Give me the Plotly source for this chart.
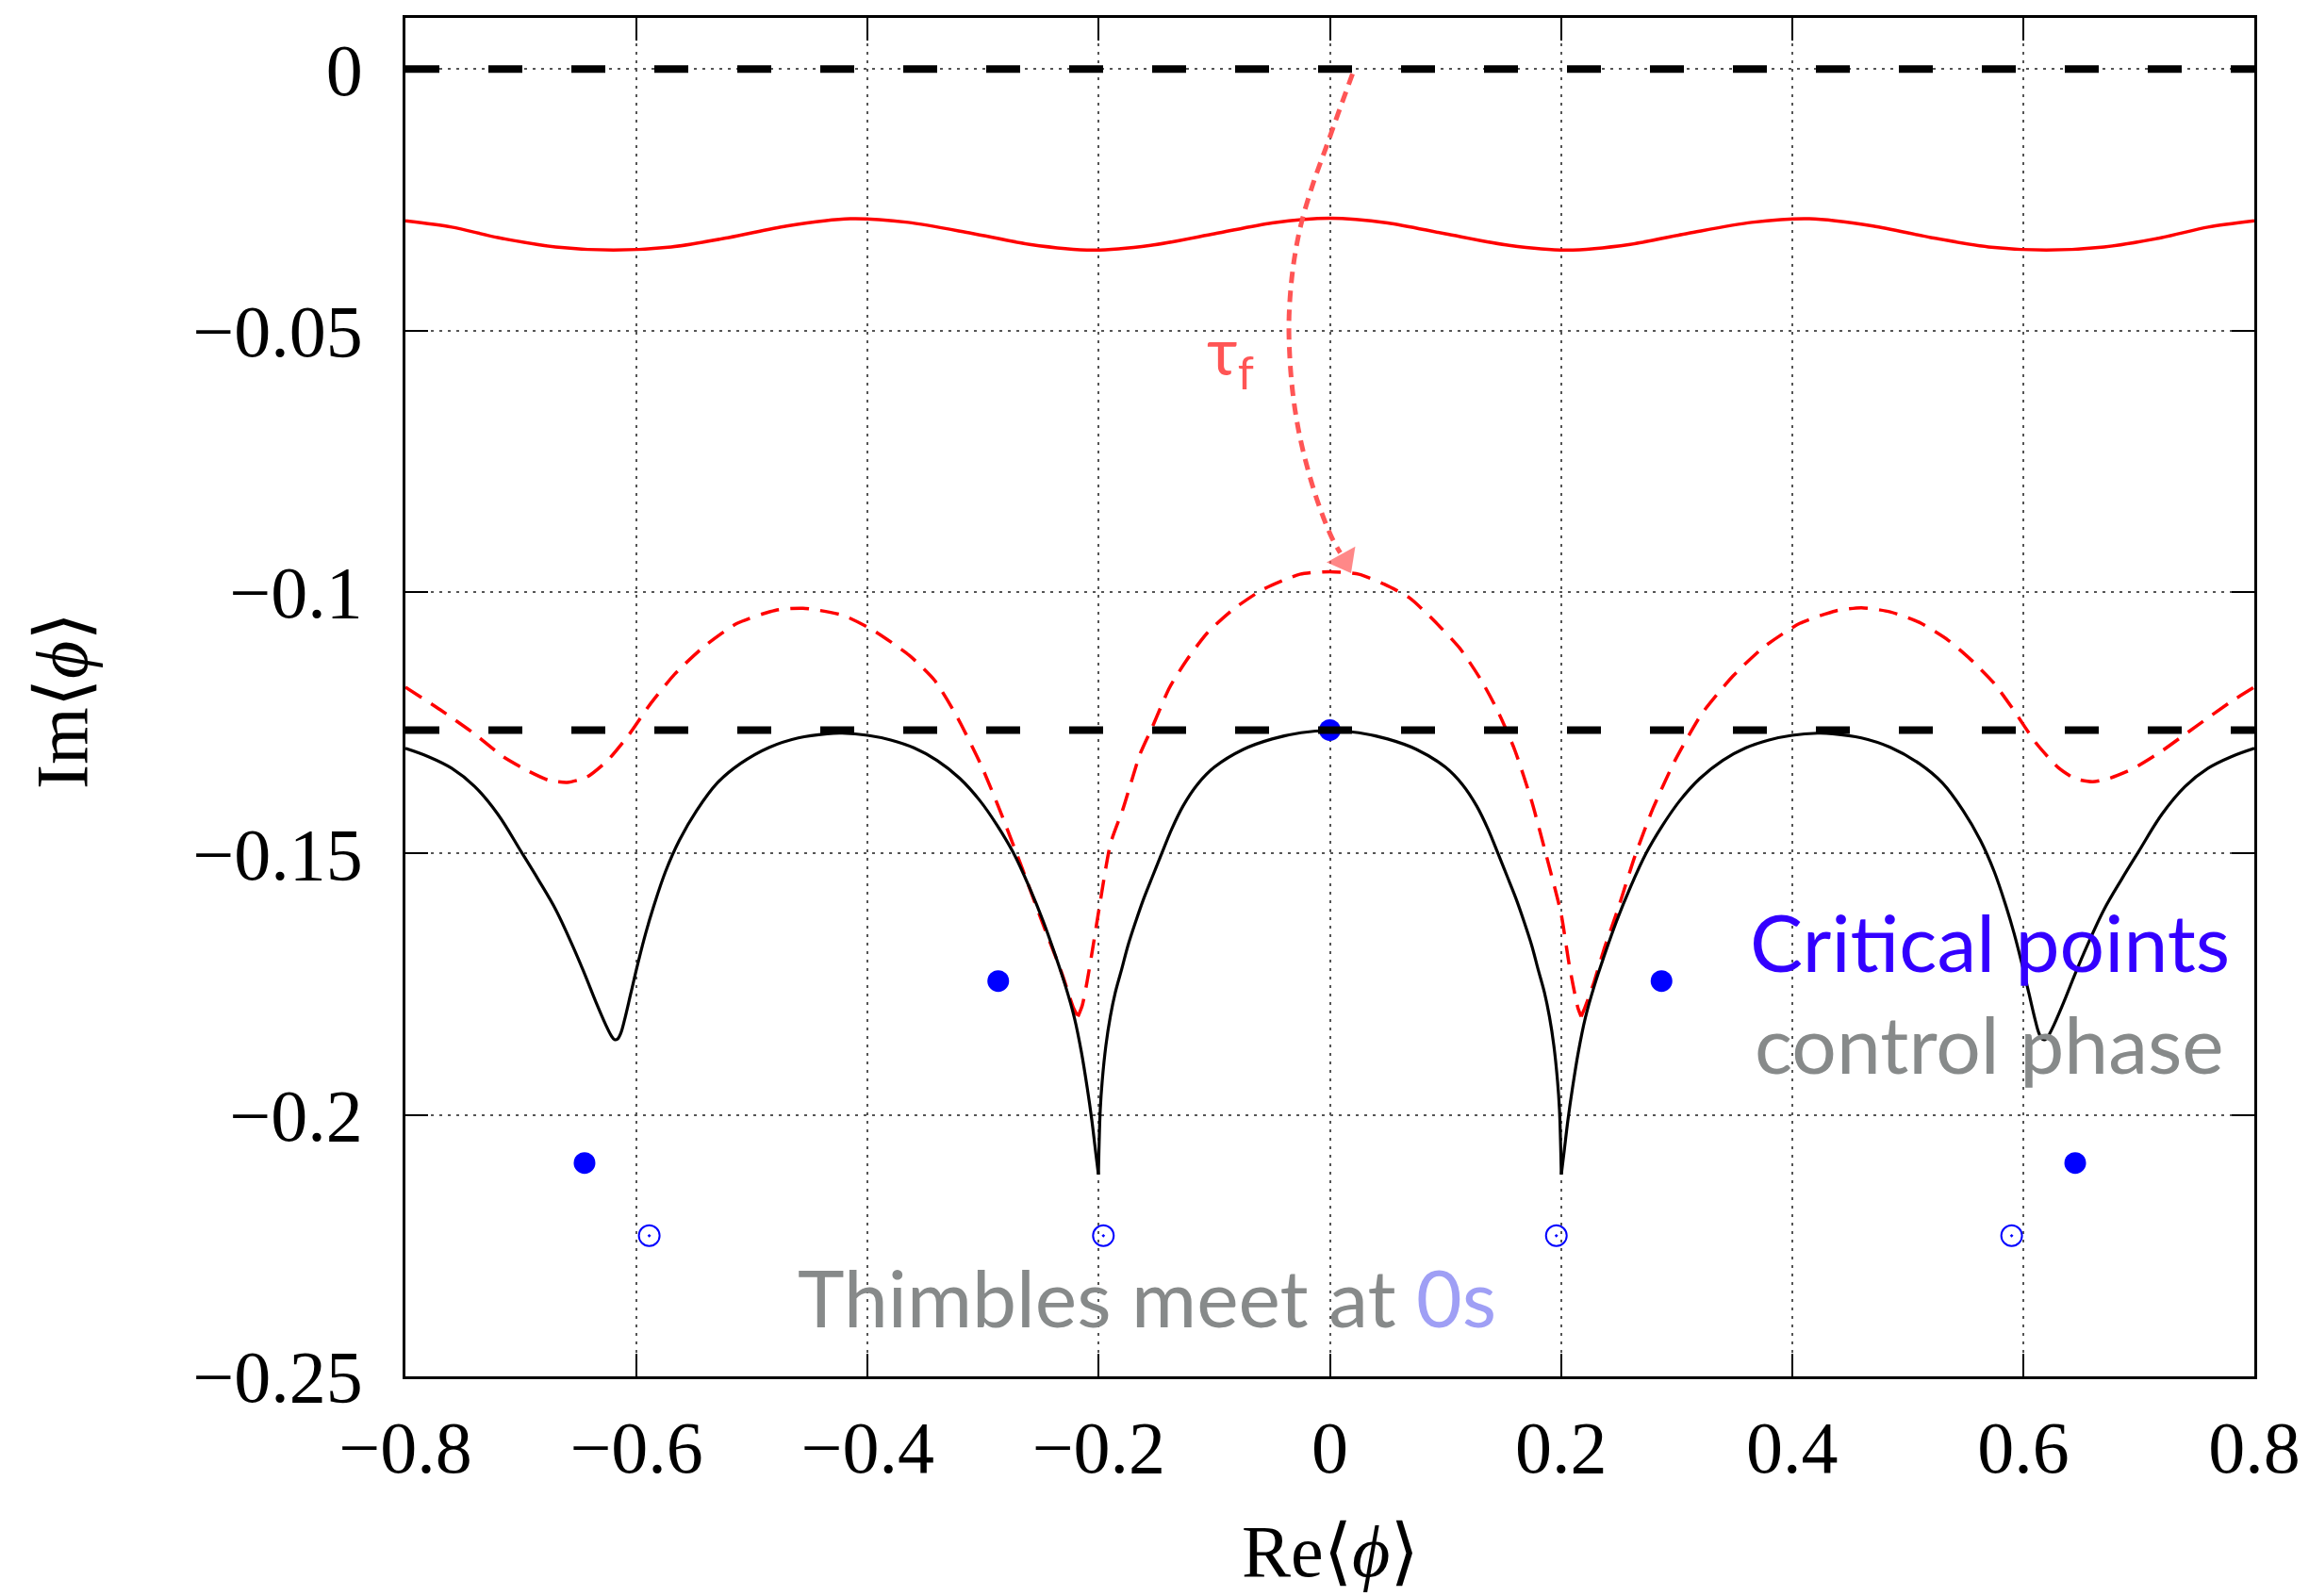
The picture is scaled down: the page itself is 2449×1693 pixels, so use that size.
import plotly.graph_objects as go

# ---------------- data ----------------
x_ticks = [-0.8, -0.6, -0.4, -0.2, 0.0, 0.2, 0.4, 0.6, 0.8]
x_ticktext = ["−0.8", "−0.6", "−0.4", "−0.2", "0", "0.2", "0.4", "0.6", "0.8"]
y_ticks = [-0.25, -0.2, -0.15, -0.1, -0.05, 0.0]
y_ticktext = ["−0.25", "−0.2", "−0.15", "−0.1", "−0.05", "0"]

# horizontal thick dashed reference levels
level_x = [-0.8, 0.8]
level_top = [0.0, 0.0]
level_low = [-0.1264, -0.1264]

# red solid wavy curve
wave_x = [-0.8, -0.76, -0.72, -0.67, -0.62, -0.57, -0.52, -0.47, -0.415, -0.365,
          -0.31, -0.26, -0.205, -0.155, -0.10, -0.05, 0.0, 0.05, 0.10, 0.155,
          0.205, 0.26, 0.31, 0.365, 0.415, 0.47, 0.52, 0.57, 0.62, 0.67,
          0.72, 0.76, 0.8]
wave_y = [-0.0290, -0.0302, -0.0322, -0.0340, -0.0346, -0.0340, -0.0322, -0.0300,
          -0.0286, -0.0293, -0.0314, -0.0335, -0.0346, -0.0337, -0.0315, -0.0294,
          -0.0285, -0.0294, -0.0315, -0.0337, -0.0346, -0.0335, -0.0314, -0.0293,
          -0.0286, -0.0300, -0.0322, -0.0340, -0.0346, -0.0340, -0.0322, -0.0302,
          -0.0290]

# red dashed curve, three smooth pieces meeting at its two sharp minima
rdash_left_x = [-0.800, -0.770, -0.741, -0.716, -0.694, -0.676, -0.660, -0.643, -0.625,
                -0.607, -0.589, -0.567, -0.542, -0.513, -0.480, -0.456, -0.422, -0.396,
                -0.364, -0.342, -0.324, -0.302, -0.284, -0.266, -0.250, -0.2318,
                -0.2223, -0.2180]
rdash_left_y = [-0.1182, -0.1225, -0.1270, -0.1314, -0.1342, -0.1360, -0.1364, -0.1354,
                -0.1322, -0.1274, -0.1217, -0.1157, -0.1105, -0.1060, -0.1035, -0.1031,
                -0.1044, -0.1072, -0.1121, -0.1169, -0.1233, -0.1330, -0.1426, -0.1530,
                -0.1625, -0.1730, -0.1793, -0.1812]
rdash_mid_x = [-0.2180, -0.2142, -0.2101, -0.2046, -0.1998, -0.1898, -0.1789, -0.1643,
               -0.1534, -0.1388, -0.1242, -0.1060, -0.0842, -0.0587, -0.0259, 0.0,
               0.0251, 0.047, 0.0689, 0.0907, 0.1126, 0.1308, 0.1454, 0.1600, 0.1745,
               0.1891, 0.2000, 0.2073, 0.2146, 0.2175]
rdash_mid_y = [-0.1812, -0.1790, -0.1745, -0.1673, -0.1607, -0.1481, -0.1414, -0.1310,
               -0.1257, -0.1183, -0.1131, -0.1078, -0.1034, -0.0996, -0.0966, -0.0961,
               -0.0966, -0.0985, -0.1011, -0.1056, -0.1108, -0.1168, -0.1228, -0.1302,
               -0.1399, -0.1519, -0.1614, -0.1715, -0.1795, -0.1812]
rdash_right_x = [0.2175, 0.2207, 0.2288, 0.2370, 0.2492, 0.2640, 0.2794, 0.2987, 0.3218,
                 0.3487, 0.3757, 0.4066, 0.4380, 0.4600, 0.4850, 0.5100, 0.5350, 0.5550,
                 0.5750, 0.5915, 0.6108, 0.6300, 0.6450, 0.6600, 0.6750, 0.6950, 0.7187,
                 0.7495, 0.7803, 0.8000]
rdash_right_y = [-0.1812, -0.1795, -0.1745, -0.1685, -0.1607, -0.1505, -0.1415, -0.1322,
                 -0.1233, -0.1161, -0.1105, -0.1060, -0.1036, -0.1030, -0.1038, -0.1058,
                 -0.1092, -0.1130, -0.1175, -0.1225, -0.1288, -0.1335, -0.1357, -0.1363,
                 -0.1356, -0.1338, -0.1306, -0.1257, -0.1209, -0.1182]

# black solid curve, three smooth pieces meeting at its two cusps
black_left_x = [-0.800, -0.780, -0.760, -0.740, -0.720, -0.700, -0.685, -0.670, -0.655,
                -0.645, -0.635, -0.627, -0.622, -0.619, -0.6165, -0.6135, -0.6100,
                -0.6050, -0.5990, -0.5920, -0.5850, -0.5750, -0.5630, -0.5480, -0.5300,
                -0.5100, -0.4850, -0.4600, -0.4350, -0.4220, -0.4000, -0.3800, -0.3600,
                -0.3400, -0.3200, -0.3025, -0.2880, -0.2736, -0.2600, -0.2480, -0.2380,
                -0.2290, -0.2210, -0.2150, -0.2100, -0.2060, -0.2030, -0.2003]
black_left_y = [-0.1299, -0.1315, -0.1337, -0.1372, -0.1425, -0.1496, -0.1550, -0.1607,
                -0.1678, -0.1730, -0.1785, -0.1826, -0.1848, -0.1856, -0.1855, -0.1843,
                -0.1815, -0.1768, -0.1712, -0.1652, -0.1600, -0.1535, -0.1475, -0.1418,
                -0.1365, -0.1328, -0.1297, -0.1279, -0.1271, -0.1270, -0.1274, -0.1283,
                -0.1298, -0.1322, -0.1357, -0.1400, -0.1446, -0.1500, -0.1565, -0.1630,
                -0.1692, -0.1752, -0.1815, -0.1880, -0.1948, -0.2010, -0.2065, -0.2114]
black_mid_x = [-0.2003, -0.1987, -0.1970, -0.1938, -0.1900, -0.1857, -0.1800, -0.1747,
               -0.1680, -0.1612, -0.1535, -0.1457, -0.1370, -0.1270, -0.1150, -0.1000,
               -0.0750, -0.0500, -0.0250, 0.0,
               0.0250, 0.0500, 0.0750, 0.1000, 0.1150, 0.1270, 0.1370, 0.1457, 0.1535,
               0.1612, 0.1680, 0.1747, 0.1800, 0.1857, 0.1900, 0.1938, 0.1970, 0.1987,
               0.2003]
black_mid_y = [-0.2114, -0.1990, -0.1935, -0.1867, -0.1812, -0.1766, -0.1720, -0.1676,
               -0.1630, -0.1587, -0.1544, -0.1501, -0.1454, -0.1409, -0.1369, -0.1335,
               -0.1301, -0.1281, -0.1269, -0.1265,
               -0.1269, -0.1281, -0.1301, -0.1335, -0.1369, -0.1409, -0.1454, -0.1501,
               -0.1544, -0.1587, -0.1630, -0.1676, -0.1720, -0.1766, -0.1812, -0.1867,
               -0.1935, -0.1990, -0.2114]
black_right_x = [0.2003, 0.2030, 0.2060, 0.2100, 0.2150, 0.2210, 0.2290, 0.2380, 0.2480,
                 0.2600, 0.2736, 0.2880, 0.3025, 0.3200, 0.3400, 0.3600, 0.3800, 0.4000,
                 0.4220, 0.4350, 0.4600, 0.4850, 0.5100, 0.5300, 0.5480, 0.5630, 0.5750,
                 0.5850, 0.5920, 0.5990, 0.6050, 0.6100, 0.6135, 0.6165, 0.619, 0.622,
                 0.627, 0.635, 0.645, 0.655, 0.670, 0.685, 0.700, 0.720, 0.740, 0.760,
                 0.780, 0.800]
black_right_y = [-0.2114, -0.2065, -0.2010, -0.1948, -0.1880, -0.1815, -0.1752, -0.1692,
                 -0.1630, -0.1565, -0.1500, -0.1446, -0.1400, -0.1357, -0.1322, -0.1298,
                 -0.1283, -0.1274, -0.1270, -0.1271, -0.1279, -0.1297, -0.1328, -0.1365,
                 -0.1418, -0.1475, -0.1535, -0.1600, -0.1652, -0.1712, -0.1768, -0.1815,
                 -0.1843, -0.1855, -0.1856, -0.1848, -0.1826, -0.1785, -0.1730, -0.1678,
                 -0.1607, -0.1550, -0.1496, -0.1425, -0.1372, -0.1337, -0.1315, -0.1299]

# critical points (filled)
crit_x = [0.0, -0.287, 0.287, -0.645, 0.645]
crit_y = [-0.1264, -0.1744, -0.1744, -0.2092, -0.2092]

# thimbles-meeting points (open circles)
meet_x = [-0.589, -0.196, 0.196, 0.590]
meet_y = [-0.2231, -0.2231, -0.2231, -0.2231]

# tau_f flow path (dotted arrow)
tau_x = [0.0196, 0.0073, -0.0035, -0.0144, -0.0253, -0.0320, -0.0353, -0.0348,
         -0.0320, -0.0266, -0.0185, -0.0090, 0.0019, 0.0090]
tau_y = [-0.0009, -0.0084, -0.0151, -0.0218, -0.0300, -0.0382, -0.0472, -0.0546,
         -0.0621, -0.0696, -0.0770, -0.0837, -0.0897, -0.0925]
tau_head_x = [0.0019, 0.0125]
tau_head_y = [-0.0897, -0.0940]

# ---------------- figure ----------------
RED = "#ff0000"
LRED = "#ff5555"
BLUE = "#0000ff"

fig = go.Figure()

fig.add_trace(go.Scatter(x=wave_x, y=wave_y, mode="lines",
                         line=dict(color=RED, width=3.5, shape="spline", smoothing=0.8)))
for xs, ys in ((rdash_left_x, rdash_left_y), (rdash_mid_x, rdash_mid_y),
               (rdash_right_x, rdash_right_y)):
    fig.add_trace(go.Scatter(x=xs, y=ys, mode="lines",
                             line=dict(color=RED, width=3.5, dash="20px,12px",
                                       shape="spline", smoothing=0.6)))
for xs, ys in ((black_left_x, black_left_y), (black_mid_x, black_mid_y),
               (black_right_x, black_right_y)):
    fig.add_trace(go.Scatter(x=xs, y=ys, mode="lines",
                             line=dict(color="black", width=3.2, shape="spline",
                                       smoothing=1.0)))
fig.add_trace(go.Scatter(x=crit_x, y=crit_y, mode="markers",
                         marker=dict(color=BLUE, size=23, line=dict(width=0))))
fig.add_trace(go.Scatter(x=meet_x, y=meet_y, mode="markers",
                         marker=dict(symbol="circle-open-dot", color=BLUE, size=22,
                                     line=dict(width=2, color=BLUE))))
for ly in (level_top, level_low):
    fig.add_trace(go.Scatter(x=level_x, y=ly, mode="lines",
                             line=dict(color="black", width=8, dash="36px,52px")))
fig.add_trace(go.Scatter(x=tau_x, y=tau_y, mode="lines",
                         line=dict(color=LRED, width=5, dash="12px,8px", shape="spline")))
fig.add_trace(go.Scatter(x=tau_head_x, y=tau_head_y, mode="markers",
                         marker=dict(symbol="triangle-up", size=[0, 30], color=LRED,
                                     angleref="previous", line=dict(width=0))))

SERIF = "Liberation Serif, DejaVu Serif, serif"
SANS = "Lato, Noto Sans, sans-serif"

axis_common = dict(
    showline=True, linecolor="black", linewidth=2.5, mirror="ticks",
    ticks="inside", ticklen=24, tickwidth=2, tickcolor="black",
    showgrid=True, gridcolor="#555555", gridwidth=1.5, griddash="3px,6px",
    zeroline=False,
    tickfont=dict(family=SERIF, size=78, color="black"),
)

fig.update_layout(
    width=2441, height=1685,
    margin=dict(l=422, r=58, t=8, b=233),
    paper_bgcolor="white", plot_bgcolor="white",
    showlegend=False,
    xaxis=dict(range=[-0.8, 0.8], tickmode="array", tickvals=x_ticks,
               ticktext=x_ticktext, ticklabelstandoff=6, **axis_common),
    yaxis=dict(range=[-0.25, 0.0098], tickmode="array", tickvals=y_ticks,
               ticktext=y_ticktext, ticklabelstandoff=27, **axis_common),
    annotations=[
        dict(text="Re⟨<i>ϕ</i>⟩", xref="x", yref="paper", x=0.0, y=-0.1285,
             xanchor="center", yanchor="middle", showarrow=False,
             font=dict(family=SERIF, size=78, color="black")),
        dict(text="Im⟨<i>ϕ</i>⟩", xref="paper", yref="paper", x=-0.1856, y=0.4976,
             xanchor="center", yanchor="middle", showarrow=False, textangle=-90,
             font=dict(family=SERIF, size=78, color="black")),
        dict(text="Critical points", xref="x", yref="y", x=0.7803, y=-0.1668,
             xanchor="right", yanchor="middle", showarrow=False,
             font=dict(family=SANS, size=84, color="#3300ff")),
        dict(text="control phase", xref="x", yref="y", x=0.7754, y=-0.1862,
             xanchor="right", yanchor="middle", showarrow=False,
             font=dict(family=SANS, size=84, color="#878a8a")),
        dict(text="Thimbles meet at <span style='color:#9f9ff5'>0s</span>",
             xref="x", yref="y", x=-0.1582, y=-0.2347,
             xanchor="center", yanchor="middle", showarrow=False,
             font=dict(family=SANS, size=84, color="#878a8a")),
        dict(text="τ<sub>f</sub>", xref="x", yref="y", x=-0.086, y=-0.0545,
             xanchor="center", yanchor="middle", showarrow=False,
             font=dict(family=SANS, size=70, color=LRED)),
    ],
)

fig.write_html("out.html")
